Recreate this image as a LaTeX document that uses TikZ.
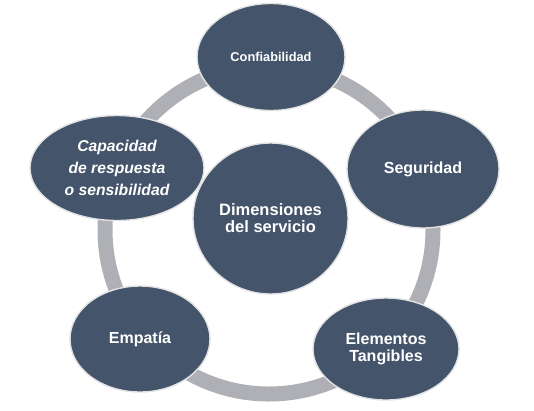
\documentclass[tikz,border=0pt]{standalone}
\usepackage{fontspec}
\setmainfont{Liberation Sans}
\usetikzlibrary{shapes.geometric}
\definecolor{darkslate}{HTML}{44546A}
\definecolor{ringgray}{HTML}{AEB0B6}
\definecolor{rimgray}{HTML}{E2E2E2}
\tikzset{
  blob/.style={ellipse, fill=darkslate, draw=rimgray, line width=1.4pt,
    inner sep=0pt, text=white, align=center,
    font=\bfseries\fontsize{16}{17}\selectfont},
}
\begin{document}
\begin{tikzpicture}[x=1pt,y=-1pt]
\useasboundingbox (0,0) rectangle (534,410);
\draw[ringgray, line width=15pt] (269,230) circle[radius=164];
\node[blob, minimum width=148pt, minimum height=107pt, font=\bfseries\fontsize{12.8}{14}\selectfont] (conf) at (271,57) {Confiabilidad};
\node[blob, minimum width=152pt, minimum height=118pt] (seg) at (423,169) {Seguridad};
\node[blob, minimum width=174pt, minimum height=105pt, font=\bfseries\itshape\fontsize{15.7}{22}\selectfont] (cap) at (117,168) {Capacidad\\de respuesta\\o sensibilidad};
\node[blob, minimum width=140pt, minimum height=106pt] (emp) at (140,339) {Empatía};
\node[blob, minimum width=146pt, minimum height=102pt] (elem) at (386,349) {Elementos\\Tangibles};
\node[blob, minimum width=155pt, minimum height=151pt, font=\bfseries\fontsize{16.5}{17}\selectfont] (dim) at (270.5,218.5) {Dimensiones\\del servicio};
\end{tikzpicture}
\end{document}
